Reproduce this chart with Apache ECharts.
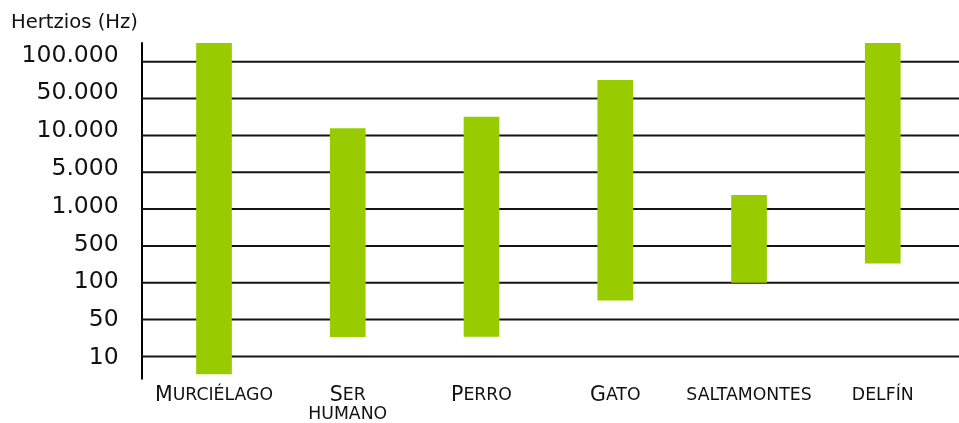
<!DOCTYPE html>
<html>
<head>
<meta charset="utf-8">
<script src="https://cdn.jsdelivr.net/npm/echarts@6/dist/echarts.min.js"></script>
<style>
html,body{margin:0;padding:0;background:#fff}
#chart{width:959px;height:423px}
</style>
</head>
<body>
<div id="chart"></div>
<script>
// ---- data ----
const categories = ['Murciélago', 'Ser humano', 'Perro', 'Gato', 'saltamontes', 'delfín'];
const tickValues = [10, 50, 100, 500, 1000, 5000, 10000, 50000, 100000];
const tickLabels = ['10', '50', '100', '500', '1.000', '5.000', '10.000', '50.000', '100.000'];
const lowHz  = [4.6, 23.3, 23.6, 71.6, 100, 232];
const highHz = [142000, 13660, 22640, 70900, 1858, 142000];

// ---- scale helper: evenly spaced tick steps, log-interpolated within a step ----
function hzToPos(v) {
  const t = tickValues;
  let i = 0;
  if (v >= t[t.length - 1]) i = t.length - 2;
  else if (v > t[0]) { while (v > t[i + 1]) i++; }
  return i + Math.log(v / t[i]) / Math.log(t[i + 1] / t[i]);
}

const Y_MIN = -0.605, Y_MAX = 8.507;
const X_MIN = -0.5406, X_MAX = 5.57;
const FONT = 'DejaVu Sans';
const TXT = '#111';

const barData = categories.map((c, i) => [i, hzToPos(lowHz[i]), Math.min(hzToPos(highHz[i]), Y_MAX)]);
const gridData = tickValues.map((v, i) => [hzToPos(v)]);
const yTickPos = tickValues.map(v => hzToPos(v));
const xTickPos = categories.map((c, i) => i);

// y label rich styles (slight drift of labels relative to lines, as in the reference)
const yRich = {};
tickLabels.forEach((l, i) => {
  const s = 1.3 - 0.925 * i;
  yRich['r' + i] = {
    fontFamily: FONT, fontSize: 23.5, color: TXT,
    padding: s > 0 ? [2 * s, 0, 0, 0] : [0, 0, -2 * s, 0]
  };
});

function smallCaps(name) {
  return name.split(' ').map(w => {
    const first = w.charAt(0);
    const rest = w.slice(1).toUpperCase();
    if (first !== first.toLowerCase()) {
      return '{big|' + first + '}' + (rest ? '{sm|' + rest + '}' : '');
    }
    return '{sm|' + w.toUpperCase() + '}';
  }).join('\n');
}

const chart = echarts.init(document.getElementById('chart'), null, { renderer: 'canvas' });
chart.setOption({
  animation: false,
  backgroundColor: '#fff',
  title: {
    text: 'Hertzios (Hz)',
    left: 11, top: 12.5, padding: 0,
    textStyle: { fontFamily: FONT, fontSize: 19.6, fontWeight: 'normal', color: TXT }
  },
  grid: { left: 141.7, right: 0, top: 43, bottom: 44, containLabel: false },
  xAxis: {
    type: 'value',
    min: X_MIN, max: X_MAX,
    axisLine: { show: false },
    axisTick: { show: false },
    splitLine: { show: false },
    axisLabel: {
      customValues: xTickPos,
      margin: 8,
      verticalAlign: 'top',
      formatter: function (v) {
        const i = Math.round(v);
        if (Math.abs(v - i) > 1e-6 || i < 0 || i >= categories.length) return '';
        return smallCaps(categories[i]);
      },
      rich: {
        big: { fontFamily: FONT, fontSize: 20.5, color: TXT, lineHeight: 18.5 },
        sm: { fontFamily: FONT, fontSize: 17.3, color: TXT, lineHeight: 18.5 }
      }
    }
  },
  yAxis: {
    type: 'value',
    min: Y_MIN, max: Y_MAX,
    axisLine: { show: true, onZero: false, lineStyle: { color: '#000', width: 2 } },
    axisTick: { show: false },
    splitLine: { show: false },
    axisLabel: {
      customValues: yTickPos,
      margin: 23,
      formatter: function (v) {
        const i = Math.round(v);
        if (Math.abs(v - i) > 1e-6 || i < 0 || i >= tickLabels.length) return '';
        return '{r' + i + '|' + tickLabels[i] + '}';
      },
      rich: yRich
    }
  },
  series: [{
    type: 'custom',
    data: gridData,
    silent: true,
    z: 1,
    encode: { y: 0 },
    renderItem: function (params, api) {
      const y = api.value(0);
      const a = api.coord([X_MIN, y]);
      const b = api.coord([X_MAX, y]);
      return {
        type: 'line',
        shape: { x1: a[0], y1: a[1], x2: b[0], y2: b[1] },
        style: { stroke: '#141414', lineWidth: 2 }
      };
    }
  }, {
    type: 'custom',
    data: barData,
    z: 2,
    renderItem: function (params, api) {
      const x = api.value(0);
      const lo = api.coord([x, api.value(1)]);
      const hi = api.coord([x, api.value(2)]);
      const w = 35.7;
      return {
        type: 'rect',
        shape: { x: lo[0] - w / 2, y: hi[1], width: w, height: lo[1] - hi[1] },
        style: { fill: '#99cc00' }
      };
    }
  }]
});
</script>
</body>
</html>
